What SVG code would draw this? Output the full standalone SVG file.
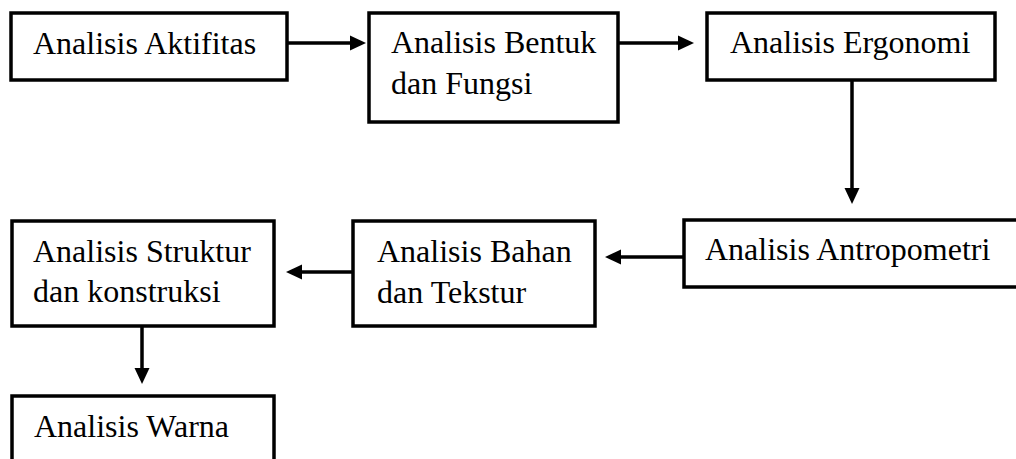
<svg xmlns="http://www.w3.org/2000/svg" width="1016" height="459" viewBox="0 0 1016 459">
  <defs>
    <style>
      .box { fill: #ffffff; stroke: #000000; stroke-width: 3.5px; }
      text { font-family: "Liberation Serif", "Times New Roman", Times, serif; font-size: 32px; fill: #000000; }
      .conn { stroke: #000000; stroke-width: 3.5px; fill: none; }
      .head { fill: #000000; stroke: none; }
    </style>
  </defs>
  <rect width="1016" height="459" fill="#ffffff"/>

  <!-- connector shafts and filled arrowheads -->
  <g id="connectors">
    <line class="conn" x1="287" y1="43" x2="352" y2="43"/>
    <path class="head" d="M350,35.5 L366,43 L350,50.5 Z"/>
    <line class="conn" x1="618" y1="43" x2="680" y2="43"/>
    <path class="head" d="M678,35.5 L694,43 L678,50.5 Z"/>
    <line class="conn" x1="852" y1="80" x2="852" y2="190"/>
    <path class="head" d="M844.5,188 L852,204 L859.5,188 Z"/>
    <line class="conn" x1="683" y1="257" x2="619" y2="257"/>
    <path class="head" d="M621,249.5 L605,257 L621,264.5 Z"/>
    <line class="conn" x1="353" y1="272" x2="300" y2="272"/>
    <path class="head" d="M302,264.5 L286,272 L302,279.5 Z"/>
    <line class="conn" x1="142" y1="326" x2="142" y2="370"/>
    <path class="head" d="M134.5,368 L142,384 L149.5,368 Z"/>
  </g>

  <g id="aktifitas">
    <rect class="box" x="11" y="13" width="276" height="67"/>
    <text x="33" y="54">Analisis Aktifitas</text>
  </g>
  <g id="bentuk">
    <rect class="box" x="369" y="13" width="249" height="109"/>
    <text x="391" y="53">Analisis Bentuk</text>
    <text x="391" y="94">dan Fungsi</text>
  </g>
  <g id="ergonomi">
    <rect class="box" x="707" y="13" width="288" height="67"/>
    <text x="730" y="53">Analisis Ergonomi</text>
  </g>
  <g id="antropometri">
    <rect class="box" x="684" y="220" width="340" height="67"/>
    <text x="705" y="260">Analisis Antropometri</text>
  </g>
  <g id="bahan">
    <rect class="box" x="353" y="221" width="242" height="105"/>
    <text x="377" y="262">Analisis Bahan</text>
    <text x="377" y="303">dan Tekstur</text>
  </g>
  <g id="struktur">
    <rect class="box" x="12" y="221" width="262" height="105"/>
    <text x="33" y="262">Analisis Struktur</text>
    <text x="33" y="302">dan konstruksi</text>
  </g>
  <g id="warna">
    <rect class="box" x="12" y="396" width="262" height="80"/>
    <text x="34" y="437">Analisis Warna</text>
  </g>
</svg>
